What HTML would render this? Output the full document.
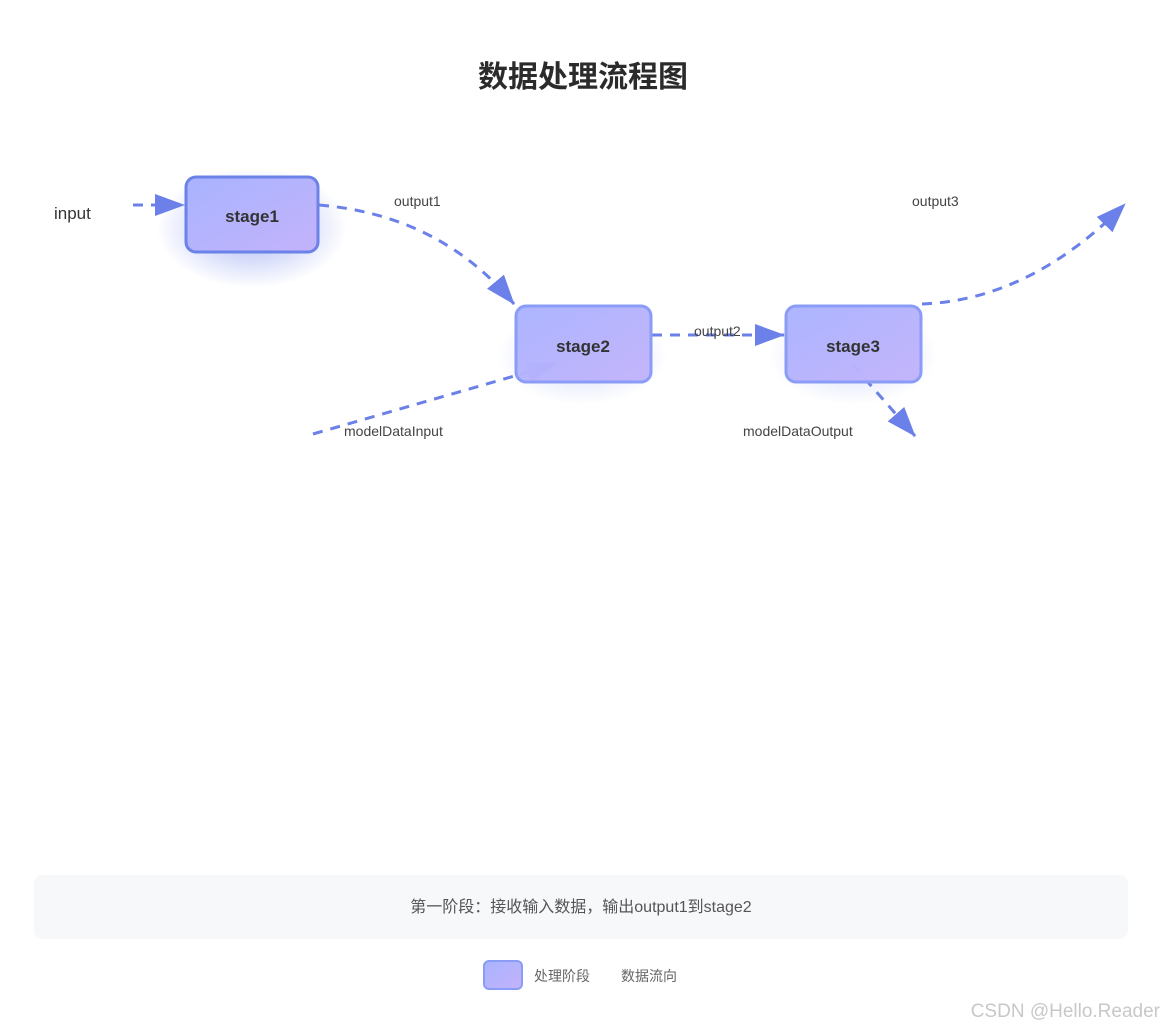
<!DOCTYPE html>
<html><head><meta charset="utf-8"><style>
body{margin:0;width:1166px;height:1033px;background:#fff;font-family:"Liberation Sans","Noto Sans CJK SC",sans-serif;position:relative;overflow:hidden}
.t{position:absolute;left:0;width:1166px;text-align:center;top:52px;font-size:30px;font-weight:bold;color:#2b2b2b}
.panel{position:absolute;left:34px;top:875px;width:1094px;height:64px;background:#f7f8fa;border-radius:8px;text-align:center;line-height:66px;font-size:16px;color:#555}
.wm{position:absolute;right:6px;top:1001px;font-size:19px;color:#c8c8c8}
</style></head><body>
<div class="t">数据处理流程图</div>
<svg width="1166" height="1033" style="position:absolute;left:0;top:0">
<defs>
<linearGradient id="g" x1="0" y1="0" x2="1" y2="1"><stop offset="0" stop-color="#a9b3ff"/><stop offset="1" stop-color="#c3b3fb"/></linearGradient>
<radialGradient id="sh"><stop offset="0.4" stop-color="#8a9cf0" stop-opacity="0.45"/><stop offset="1" stop-color="#8a9cf0" stop-opacity="0"/></radialGradient>
<marker id="a" markerWidth="10" markerHeight="8" refX="9" refY="4" orient="auto" markerUnits="userSpaceOnUse" viewBox="0 0 10 8"><path d="M0,0L10,4L0,8z" fill="#6b80e8"/></marker>
<marker id="b" markerWidth="30" markerHeight="22" refX="29" refY="11" orient="auto" markerUnits="userSpaceOnUse" viewBox="0 0 30 22"><path d="M0,0L30,11L0,22z" fill="#6b80e8"/></marker>
</defs>
<ellipse cx="252" cy="228" rx="95" ry="60" fill="url(#sh)"/>
<ellipse cx="583" cy="355" rx="85" ry="50" fill="url(#sh)" opacity="0.5"/>
<ellipse cx="853" cy="355" rx="85" ry="50" fill="url(#sh)" opacity="0.5"/>
<g fill="none" stroke="#6b80e8" stroke-width="3" stroke-dasharray="10,8">
<path d="M133,205 L184,205" marker-end="url(#b)"/>
<path d="M319,205 Q440,215 514,304" marker-end="url(#b)"/>
<path d="M652,335 L784,335" marker-end="url(#b)"/>
<path d="M922,304 Q1030,300 1125,204" marker-end="url(#b)"/>
<path d="M313,434 L556,364" marker-end="url(#b)"/>
<path d="M853,365 L915,436" marker-end="url(#b)"/>
</g>
<rect x="186" y="177" width="132" height="75" rx="10" fill="url(#g)" stroke="#6b82e8" stroke-width="3"/>
<rect x="516" y="306" width="135" height="76" rx="10" fill="url(#g)" fill-opacity="0.97" stroke="#8a9cf6" stroke-width="3"/>
<rect x="786" y="306" width="135" height="76" rx="10" fill="url(#g)" fill-opacity="0.97" stroke="#8a9cf6" stroke-width="3"/>
<g font-family="Liberation Sans, sans-serif" fill="#333">
<text x="252" y="222" font-size="17" font-weight="bold" text-anchor="middle">stage1</text>
<text x="583" y="352" font-size="17" font-weight="bold" text-anchor="middle">stage2</text>
<text x="853" y="352" font-size="17" font-weight="bold" text-anchor="middle">stage3</text>
<text x="54" y="219" font-size="17">input</text>
<g font-size="14" fill="#444">
<text x="394" y="206">output1</text>
<text x="694" y="336">output2</text>
<text x="912" y="206">output3</text>
<text x="344" y="436">modelDataInput</text>
<text x="743" y="436">modelDataOutput</text>
</g></g>
<rect x="484" y="961" width="38" height="28" rx="5" fill="url(#g)" stroke="#8a9cf6" stroke-width="2"/>
<text x="534" y="981" font-size="14" fill="#666" font-family="Liberation Sans, Noto Sans CJK SC, sans-serif">处理阶段</text>
<text x="621" y="981" font-size="14" fill="#666" font-family="Liberation Sans, Noto Sans CJK SC, sans-serif">数据流向</text>
</svg>
<div class="panel">第一阶段：接收输入数据，输出output1到stage2</div>
<div class="wm">CSDN @Hello.Reader</div>
</body></html>
